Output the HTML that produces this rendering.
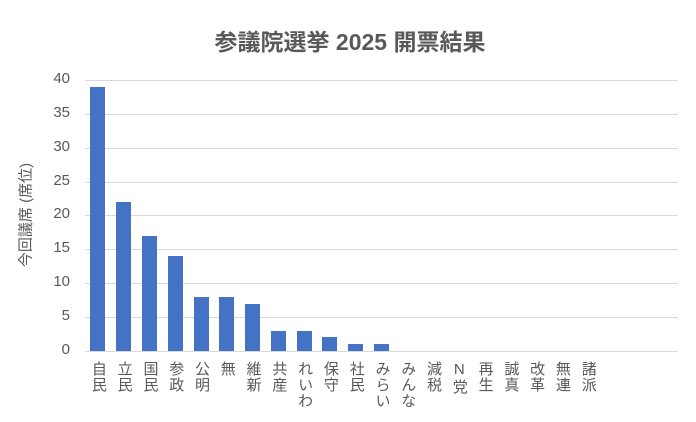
<!DOCTYPE html>
<html><head><meta charset="utf-8"><style>
body{margin:0;width:696px;height:422px;background:#fff;overflow:hidden;font-family:"Liberation Sans","Noto Sans CJK JP",sans-serif;}
.t{position:absolute;left:0;width:700px;top:23px;text-align:center;font-size:23px;font-weight:bold;color:#595959;}
.yl{position:absolute;left:25px;top:215px;transform:translate(-50%,-50%) rotate(-90deg);white-space:nowrap;font-size:15px;color:#595959;}
.tk{position:absolute;width:32px;text-align:right;font-size:15px;color:#595959;left:38px;}
.g{position:absolute;left:85px;width:593px;height:1px;background:#d9d9d9;}
.b{position:absolute;width:15px;background:#4472c4;}
.xl{position:absolute;top:361px;writing-mode:vertical-rl;text-orientation:upright;font-size:15px;color:#595959;line-height:16px;width:16px;letter-spacing:1px;}
</style></head><body>
<div class="t">参議院選挙 2025 開票結果</div>
<div class="yl">今回議席 (席位)</div>
<div id="c"></div>
<script>
var c=document.getElementById('c'),h='';
var z=351,s=6.78;
for(var i=0;i<=8;i++){var y=z-i*5*s;h+='<div class="g" style="top:'+Math.round(y)+'px"></div><div class="tk" style="top:'+(Math.round(y)-10)+'px">'+(i*5)+'</div>';}
var L=['自民','立民','国民','参政','公明','無','維新','共産','れいわ','保守','社民','みらい','みんな','減税','N党','再生','誠真','改革','無連','諸派'];
var V=[39,22,17,14,8,8,7,3,3,2,1,1];
var w=25.78;
for(var i=0;i<L.length;i++){var cx=85+w*(i+0.5);
if(V[i]){var hh=V[i]*s;h+='<div class="b" style="left:'+(cx-7.5)+'px;top:'+(z-hh)+'px;height:'+hh+'px"></div>';}
h+='<div class="xl" style="left:'+(cx-8)+'px">'+L[i]+'</div>';}
c.innerHTML=h;
</script>
</body></html>
